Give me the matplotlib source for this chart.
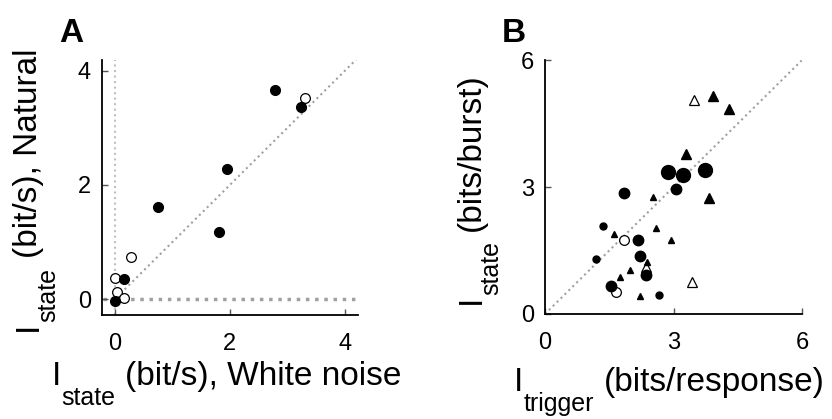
import matplotlib
matplotlib.use("Agg")
import matplotlib.pyplot as plt

plt.rcParams["font.family"] = ["Liberation Sans", "DejaVu Sans"]

# Panel A: I_state white noise vs natural (bit/s)
a_filled_x = [2.78, 3.23, 1.95, 0.75, 1.81, 0.15, 0.0]
a_filled_y = [3.67, 3.37, 2.28, 1.61, 1.18, 0.35, -0.03]
a_open_x = [3.30, 0.28, 0.0, 0.03, 0.15]
a_open_y = [3.53, 0.74, 0.37, 0.12, 0.02]

# Panel B: I_trigger vs I_state
b_circ_big_x = [2.86, 3.23, 3.74]
b_circ_big_y = [3.35, 3.28, 3.41]
b_circ_mid_x = [2.18, 2.21, 2.36, 1.54, 1.85, 3.06]
b_circ_mid_y = [1.75, 1.36, 0.93, 0.67, 2.86, 2.96]
b_circ_small_x = [1.36, 1.19, 2.67]
b_circ_small_y = [2.07, 1.29, 0.45]
b_circ_open_x = [1.85, 1.66]
b_circ_open_y = [1.74, 0.51]
b_tri_big_x = [3.92, 4.29, 3.30, 3.82]
b_tri_big_y = [5.15, 4.85, 3.77, 2.74]
b_tri_small_x = [2.51, 2.58, 2.94, 1.62, 2.38, 1.99, 1.74, 2.22]
b_tri_small_y = [2.76, 2.03, 1.74, 1.89, 1.22, 1.04, 0.88, 0.43]
b_tri_open_x = [3.47, 3.43, 2.36]
b_tri_open_y = [5.05, 0.75, 1.10]

W, H = 832, 419
fig = plt.figure(figsize=(W / 100, H / 100), dpi=100)
axA = fig.add_axes([0.1226, 0.2482, 0.3077, 0.6086])
axB = fig.add_axes([0.655, 0.2506, 0.309, 0.606])
renderer = fig.canvas.get_renderer()

grey = "#a0a0a0"

# ---- panel A ----
axA.plot([0, 0], [-0.28, 4.19], ls=":", color="#c0c0c0", lw=1.5, zorder=1)
axA.plot([-0.2, 4.2], [0, 0], ls=":", color=grey, lw=2.5, zorder=1)
axA.plot([0.1, 4.2], [0.1, 4.2], ls=":", color=grey, lw=1.5, zorder=1)
axA.plot(a_open_x, a_open_y, "o", mfc="white", mec="black", mew=0.9, ms=7, zorder=3)
axA.plot(a_filled_x, a_filled_y, "o", color="black", ms=7, zorder=4)
axA.set_xlim(-0.226, 4.23)
axA.set_ylim(-0.28, 4.19)
axA.set_xticks([0, 2, 4])
axA.set_yticks([0, 2, 4])

# ---- panel B ----
axB.plot([0, 6], [0, 6], ls=":", color=grey, lw=1.5, zorder=1)
axB.plot(b_circ_open_x, b_circ_open_y, "o", mfc="white", mec="black", mew=0.9, ms=7, zorder=3)
axB.plot(b_tri_open_x, b_tri_open_y, "^", mfc="white", mec="black", mew=0.9, ms=7, zorder=3)
axB.plot(b_circ_big_x, b_circ_big_y, "o", color="black", ms=10, zorder=4)
axB.plot(b_circ_mid_x, b_circ_mid_y, "o", color="black", ms=7.5, zorder=4)
axB.plot(b_circ_small_x, b_circ_small_y, "o", color="black", ms=5, zorder=4)
axB.plot(b_tri_big_x, b_tri_big_y, "^", color="black", ms=7, zorder=4)
axB.plot(b_tri_small_x, b_tri_small_y, "^", color="black", ms=4.5, zorder=4)
axB.set_xlim(0, 6)
axB.set_ylim(0, 6)
axB.set_xticks([0, 3, 6])
axB.set_yticks([0, 3, 6])

for ax in (axA, axB):
    ax.spines["top"].set_visible(False)
    ax.spines["right"].set_visible(False)
    ax.spines["left"].set_linewidth(1.3)
    ax.spines["bottom"].set_linewidth(1.3)
    ax.tick_params(direction="in", length=4, width=1, labelsize=17, color="#555555")
    ax.tick_params(axis="x", pad=13)
    ax.tick_params(axis="y", pad=8)


# axis labels with a big subscript, built from pieces
def label_h(x, y_top, main, sub, rest, size=24, sub_size=18, drop=20):
    y = H - y_top
    t = fig.text(x / W, y / H, main, fontsize=size, ha="left", va="baseline")
    x += t.get_window_extent(renderer).width
    t = fig.text(x / W, (y - drop) / H, sub, fontsize=sub_size, ha="left", va="baseline")
    x += t.get_window_extent(renderer).width + 10
    fig.text(x / W, y / H, rest, fontsize=size, ha="left", va="baseline")


def label_v(x, y_top, main, sub, rest, size=24, sub_size=18, drop=18):
    y = H - y_top
    kw = dict(rotation=90, rotation_mode="anchor", ha="left", va="baseline")
    t = fig.text(x / W, y / H, main, fontsize=size, **kw)
    y += t.get_window_extent(renderer).height
    t = fig.text((x + drop) / W, y / H, sub, fontsize=sub_size, **kw)
    y += t.get_window_extent(renderer).height + 10
    fig.text(x / W, y / H, rest, fontsize=size, **kw)


label_h(52, 385, "I", "state", "(bit/s), White noise")
label_v(37, 331, "I", "state", "(bit/s), Natural")
label_h(514, 391, "I", "trigger", "(bits/response)")
label_v(480, 304, "I", "state", "(bits/burst)")

fig.text(59 / W, (H - 42) / H, "A", fontsize=24, fontweight="bold")
fig.text(502 / W, (H - 42) / H, "B", fontsize=24, fontweight="bold")

fig.savefig("out.png", dpi=100)
